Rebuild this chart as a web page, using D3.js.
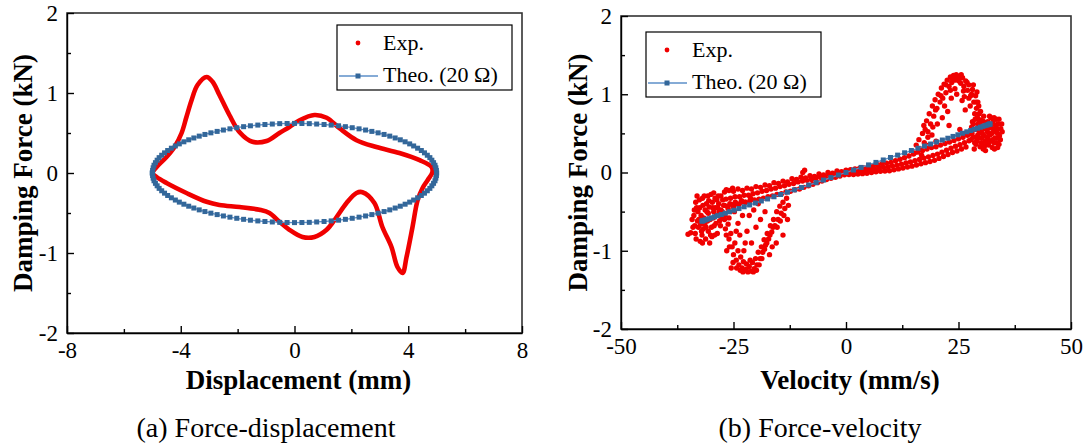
<!DOCTYPE html>
<html>
<head>
<meta charset="utf-8">
<script src="https://cdn.jsdelivr.net/npm/d3@7"></script>
<style>
  body { margin: 0; background: #fff; }
  svg { font-family: "Liberation Serif", "Times New Roman", serif; }
</style>
</head>
<body>
<svg id="chart" width="1091" height="444"></svg>
<script>
// tick values
const dispTicks = [-8, -4, 0, 4, 8];
const dispMinor = [-6, -2, 2, 6];
const velTicks = [-50, -25, 0, 25, 50];
const velMinor = [-37.5, -12.5, 12.5, 37.5];
const forceTicks = [-2, -1, 0, 1, 2];
const forceMinor = [-1.5, -0.5, 0.5, 1.5];

const expDisp = [
  [-4.99, 0], [-4.85, 0.075], [-4.50, 0.2], [-4.22, 0.325], [-3.97, 0.5], [-3.80, 0.7], [-3.62, 0.91],
  [-3.41, 1.1], [-3.09, 1.2], [-2.88, 1.14], [-2.64, 0.975], [-2.29, 0.725], [-1.93, 0.51], [-1.48, 0.39],
  [-0.98, 0.40], [-0.53, 0.50], [-0.18, 0.575], [0.18, 0.66], [0.70, 0.725], [1.13, 0.69], [1.58, 0.56],
  [2.18, 0.41], [2.88, 0.325], [3.69, 0.25], [4.40, 0.16], [4.82, 0.075], [4.85, 0.01], [4.68, -0.09],
  [4.50, -0.19], [4.33, -0.34], [4.15, -0.675], [3.94, -1.05], [3.80, -1.25], [3.62, -1.175], [3.41, -0.925],
  [3.09, -0.675], [2.81, -0.375], [2.39, -0.24], [2.18, -0.25], [1.83, -0.375], [1.48, -0.55], [1.13, -0.71],
  [0.70, -0.80], [0.28, -0.80], [-0.18, -0.71], [-0.53, -0.61], [-0.88, -0.50], [-1.23, -0.46], [-1.93, -0.425],
  [-2.64, -0.40], [-3.09, -0.36], [-3.80, -0.25], [-4.50, -0.125], [-4.85, -0.05]
];

// (a) theoretical loop, 20 ohm
const theoDisp = [
  -5.00, -4.99, -4.97, -4.94, -4.89, -4.83, -4.76, -4.67, -4.57, -4.46, -4.33, -4.19, -4.05, -3.89, -3.72, -3.54,
  -3.35, -3.15, -2.94, -2.72, -2.50, -2.27, -2.03, -1.79, -1.55, -1.29, -1.04, -0.78, -0.52, -0.26, 0.00, 0.26,
  0.52, 0.78, 1.04, 1.29, 1.55, 1.79, 2.03, 2.27, 2.50, 2.72, 2.94, 3.15, 3.35, 3.54, 3.72, 3.89, 4.05, 4.19,
  4.33, 4.46, 4.57, 4.67, 4.76, 4.83, 4.89, 4.94, 4.97, 4.99, 5.00,
  4.99, 4.97, 4.94, 4.89, 4.83, 4.76, 4.67, 4.57, 4.46, 4.33, 4.19, 4.05, 3.89, 3.72, 3.54, 3.35, 3.15, 2.94,
  2.72, 2.50, 2.27, 2.03, 1.79, 1.55, 1.29, 1.04, 0.78, 0.52, 0.26, 0.00, -0.26, -0.52, -0.78, -1.04, -1.29,
  -1.55, -1.79, -2.03, -2.27, -2.50, -2.72, -2.94, -3.15, -3.35, -3.54, -3.72, -3.89, -4.05, -4.19, -4.33,
  -4.46, -4.57, -4.67, -4.76, -4.83, -4.89, -4.94, -4.97, -4.99, -5.00
];
const theoForce = [
  0, 0.032, 0.065, 0.097, 0.129, 0.160, 0.192, 0.222, 0.252, 0.281, 0.310, 0.338, 0.364, 0.390, 0.415, 0.438,
  0.461, 0.482, 0.502, 0.520, 0.537, 0.552, 0.566, 0.579, 0.590, 0.599, 0.606, 0.612, 0.617, 0.619, 0.620, 0.619,
  0.617, 0.612, 0.606, 0.599, 0.590, 0.579, 0.566, 0.552, 0.537, 0.520, 0.502, 0.482, 0.461, 0.438, 0.415, 0.390,
  0.364, 0.338, 0.310, 0.281, 0.252, 0.222, 0.192, 0.160, 0.129, 0.097, 0.065, 0.032, 0,
  -0.032, -0.065, -0.097, -0.129, -0.160, -0.192, -0.222, -0.252, -0.281, -0.310, -0.338, -0.364, -0.390, -0.415,
  -0.438, -0.461, -0.482, -0.502, -0.520, -0.537, -0.552, -0.566, -0.579, -0.590, -0.599, -0.606, -0.612, -0.617,
  -0.619, -0.620, -0.619, -0.617, -0.612, -0.606, -0.599, -0.590, -0.579, -0.566, -0.552, -0.537, -0.520, -0.502,
  -0.482, -0.461, -0.438, -0.415, -0.390, -0.364, -0.338, -0.310, -0.281, -0.252, -0.222, -0.192, -0.160, -0.129,
  -0.097, -0.065, -0.032, 0
];

// (b) theoretical line
const theoVel = [
  -32.00, -31.96, -31.82, -31.61, -31.30, -30.91, -30.43, -29.87, -29.23, -28.51, -27.71, -26.84, -25.89, -24.87,
  -23.78, -22.63, -21.41, -20.14, -18.81, -17.43, -16.00, -14.53, -13.02, -11.47, -9.89, -8.28, -6.65, -5.01,
  -3.35, -1.67, 0, 1.67, 3.35, 5.01, 6.65, 8.28, 9.89, 11.47, 13.02, 14.53, 16.00, 17.43, 18.81, 20.14, 21.41,
  22.63, 23.78, 24.87, 25.89, 26.84, 27.71, 28.51, 29.23, 29.87, 30.43, 30.91, 31.30, 31.61, 31.82, 31.96, 32.00
];
const theoVelForce = [
  -0.620, -0.619, -0.617, -0.612, -0.606, -0.599, -0.590, -0.579, -0.566, -0.552, -0.537, -0.520, -0.502, -0.482,
  -0.461, -0.438, -0.415, -0.390, -0.364, -0.338, -0.310, -0.281, -0.252, -0.222, -0.192, -0.160, -0.129, -0.097,
  -0.065, -0.032, 0, 0.032, 0.065, 0.097, 0.129, 0.160, 0.192, 0.222, 0.252, 0.281, 0.310, 0.338, 0.364, 0.390,
  0.415, 0.438, 0.461, 0.482, 0.502, 0.520, 0.537, 0.552, 0.566, 0.579, 0.590, 0.599, 0.606, 0.612, 0.617, 0.619, 0.620
];

// (b) experimental scatter, [velocity mm/s, force kN]
const expVel = [
  // lower-left cluster
  [-33.5, -0.78], [-33, -0.62], [-33.2, -0.45], [-32.6, -0.35], [-32.8, -0.7], [-32.2, -0.55], [-32, -0.8],
  [-31.8, -0.42], [-31.5, -0.3], [-31.4, -0.66], [-31.2, -0.85], [-30.9, -0.5], [-30.6, -0.75], [-30.5, -0.36],
  [-30.2, -0.6], [-30, -0.28], [-29.8, -0.82], [-29.6, -0.45], [-29.3, -0.68], [-29.1, -0.33], [-28.8, -0.55],
  [-28.6, -0.78], [-28.3, -0.4], [-28.1, -0.62], [-27.8, -0.3], [-27.6, -0.5], [-34.5, -0.77], [-33.8, -0.55],
  [-33.4, -0.38], [-32.4, -0.88], [-31, -0.4], [-30.3, -0.9], [-29.4, -0.26], [-32.9, -0.5], [-31.7, -0.72],
  [-30.8, -0.62], [-29.9, -0.7], [-29, -0.45], [-28.4, -0.3], [-27.2, -0.42], [-26.9, -0.55], [-35.1, -0.79],
  [-34, -0.7], [-33.7, -0.48], [-33.3, -0.85], [-33.1, -0.3], [-32.7, -0.6], [-32.5, -0.45], [-32.1, -0.75],
  [-31.9, -0.33], [-31.6, -0.58], [-31.3, -0.48], [-31.1, -0.7], [-30.7, -0.3], [-30.4, -0.44], [-30.1, -0.8],
  [-29.7, -0.38], [-29.5, -0.58], [-29.2, -0.8], [-28.9, -0.65], [-28.7, -0.35], [-28.2, -0.5], [-27.9, -0.68],
  [-27.4, -0.35], [-33.6, -0.68], [-32.3, -0.66], [-31.9, -0.9], [-30.6, -0.52], [-29.4, -0.5], [-28.5, -0.45],
  [-27.7, -0.58], [-34.2, -0.6],
  // band from lower-left to origin: upper, middle and lower rows
  [-27, -0.25], [-26, -0.23], [-25, -0.24], [-24, -0.21], [-23, -0.23], [-22, -0.2], [-21, -0.21], [-20, -0.18],
  [-19, -0.19], [-18, -0.16], [-17, -0.17], [-16, -0.13], [-15, -0.14], [-14, -0.11], [-13, -0.12], [-12, -0.08],
  [-11, -0.09], [-10, -0.06], [-9, -0.07], [-8, -0.04], [-7, -0.05], [-6, -0.02], [-5, -0.03], [-4, 0.0],
  [-3, -0.01], [-2, 0.02], [-1, 0.01], [0, 0.03],
  [-26.67, -0.34], [-25.67, -0.33], [-24.67, -0.31], [-23.67, -0.31], [-22.67, -0.29], [-21.67, -0.29],
  [-20.67, -0.27], [-19.67, -0.26], [-18.67, -0.24], [-17.67, -0.23], [-16.67, -0.21], [-15.67, -0.2],
  [-14.67, -0.18], [-13.67, -0.17], [-12.67, -0.15], [-11.67, -0.14], [-10.67, -0.12], [-9.67, -0.11],
  [-8.67, -0.1], [-7.67, -0.09], [-6.67, -0.07], [-5.67, -0.06], [-4.67, -0.05], [-3.67, -0.03], [-2.67, -0.02],
  [-1.67, -0.01], [-0.67, 0.0],
  [-26.34, -0.43], [-25.34, -0.41], [-24.34, -0.4], [-23.34, -0.38], [-22.34, -0.38], [-21.34, -0.36],
  [-20.34, -0.35], [-19.34, -0.34], [-18.34, -0.33], [-17.34, -0.31], [-16.34, -0.3], [-15.34, -0.28],
  [-14.34, -0.27], [-13.34, -0.25], [-12.34, -0.24], [-11.34, -0.22], [-10.34, -0.21], [-9.34, -0.19],
  [-8.34, -0.17], [-7.34, -0.15], [-6.34, -0.13], [-5.34, -0.11], [-4.34, -0.09], [-3.34, -0.075],
  [-2.34, -0.06], [-1.34, -0.045], [-0.34, -0.03], [-9.6, 0.0], [-9.2, 0.03],
  [-27, -0.42], [-25.8, -0.4], [-24.6, -0.38], [-23.2, -0.36], [-26.2, -0.46], [-25, -0.44], [-23.8, -0.41],
  [-22.4, -0.38], [-21.2, -0.33], [-27.8, -0.48], [-26.6, -0.22], [-25.2, -0.2],
  // band from origin to upper-right: upper, middle and lower rows
  [1, 0.037], [2, 0.045], [3, 0.052], [4, 0.059], [5, 0.072], [6, 0.086], [7, 0.1], [8, 0.111], [9, 0.12],
  [10, 0.128], [11, 0.15], [12, 0.17], [13, 0.19], [14, 0.21], [15, 0.235], [16, 0.26], [17, 0.28], [18, 0.3],
  [19, 0.32], [20, 0.33], [21, 0.35], [22, 0.37], [23, 0.39], [24, 0.41], [25, 0.43], [26, 0.45], [27, 0.475],
  [1.33, 0.008], [2.33, 0.012], [3.33, 0.017], [4.33, 0.025], [5.33, 0.035], [6.33, 0.047], [7.33, 0.057],
  [8.33, 0.066], [9.33, 0.072], [10.33, 0.082], [11.33, 0.093], [12.33, 0.107], [13.33, 0.121], [14.33, 0.135],
  [15.33, 0.15], [16.33, 0.167], [17.33, 0.184], [18.33, 0.2], [19.33, 0.218], [20.33, 0.235], [21.33, 0.26],
  [22.33, 0.285], [23.33, 0.31], [24.33, 0.335], [25.33, 0.355], [26.33, 0.38], [27.33, 0.405],
  [0.66, -0.027], [1.66, -0.025], [2.66, -0.02], [3.66, -0.015], [4.66, -0.01], [5.66, 0.0], [6.66, 0.008],
  [7.66, 0.015], [8.66, 0.019], [9.66, 0.023], [10.66, 0.034], [11.66, 0.046], [12.66, 0.058], [13.66, 0.07],
  [14.66, 0.081], [15.66, 0.096], [16.66, 0.111], [17.66, 0.126], [18.66, 0.14], [19.66, 0.155], [20.66, 0.18],
  [21.66, 0.205], [22.66, 0.23], [23.66, 0.255], [24.66, 0.275], [25.66, 0.3], [26.66, 0.325],
  // upper-right cluster
  [28, 0.5], [28.3, 0.62], [28.6, 0.38], [29, 0.55], [29.2, 0.7], [29.5, 0.44], [29.8, 0.33], [30, 0.6],
  [30.3, 0.5], [30.6, 0.72], [30.9, 0.4], [31.2, 0.56], [31.5, 0.65], [31.7, 0.35], [32, 0.48], [32.3, 0.6],
  [32.6, 0.42], [32.9, 0.7], [33.2, 0.52], [33.5, 0.38], [33.8, 0.62], [34.1, 0.47], [34.4, 0.56], [33, 0.3],
  [31, 0.28], [29.4, 0.62], [28.8, 0.45], [30.1, 0.38], [31.9, 0.72], [33.4, 0.68], [34.6, 0.62], [34, 0.36],
  [32.5, 0.32], [30.7, 0.47], [29.7, 0.52], [27.8, 0.42], [28.5, 0.3], [31.4, 0.45], [32.8, 0.55],
  [27.9, 0.58], [28.2, 0.45], [28.7, 0.68], [29.1, 0.4], [29.5, 0.58], [29.9, 0.67], [30.2, 0.44], [30.5, 0.56],
  [30.8, 0.34], [31.1, 0.64], [31.4, 0.52], [31.8, 0.6], [32.1, 0.4], [32.4, 0.5], [32.7, 0.65], [33.1, 0.44],
  [33.3, 0.6], [33.7, 0.5], [34, 0.68], [34.3, 0.42], [34.7, 0.52], [28.4, 0.55], [29.3, 0.48], [30.4, 0.66],
  [31.6, 0.42], [32.2, 0.7], [33.6, 0.56], [30, 0.52], [31.3, 0.36], [32.9, 0.38], [28.9, 0.36], [29.6, 0.65],
  [30.9, 0.58], [32, 0.57], [33.9, 0.44], [31.8, 0.5], [30.5, 0.3], [33.7, 0.32], [27.5, 0.5], [28.1, 0.65],
  // upper arch
  [15.6, 0.35], [16.2, 0.42], [16.5, 0.3], [17, 0.5], [17.4, 0.38], [17.3, 0.6], [17.9, 0.66], [18.2, 0.52],
  [18.5, 0.75], [18.8, 0.62], [19.2, 0.85], [19.5, 0.72], [19.8, 0.93], [20.2, 0.82], [20.5, 1.0], [20.9, 0.9],
  [21.2, 1.08], [21.5, 0.95], [21.8, 1.13], [22.2, 1.02], [22.5, 1.18], [22.9, 1.1], [23.2, 1.22], [23.5, 1.15],
  [23.9, 1.24], [24.2, 1.18], [24.5, 1.25], [24.9, 1.2], [25.2, 1.23], [25.5, 1.14], [25.9, 1.21], [26.2, 1.1],
  [26.6, 1.17], [27, 1.05], [27.3, 1.12], [27.7, 0.98], [28.1, 1.06], [28.4, 0.9], [28.8, 0.98], [29, 0.82],
  [29.3, 0.9], [29.6, 0.75], [21.9, 0.85], [22.6, 0.78], [23.4, 0.95], [24.6, 1.0], [25.8, 0.92], [26.5, 0.8],
  [27.6, 0.85], [19.1, 0.48], [20.3, 0.62], [21.4, 0.7], [22.9, 0.6], [18.4, 0.35], [20, 0.4], [24.2, 1.07],
  [26.3, 0.97], [28.6, 0.75], [16.8, 0.22], [15.2, 0.25], [25.3, 0.55],
  [23.6, 1.2], [24.4, 1.22], [25.1, 1.17], [25.6, 1.25], [26.9, 1.15], [27.9, 1.0], [28.3, 1.12], [28.9, 0.9],
  [29.5, 0.85], [29.9, 0.78], [29.1, 1.03], [27.3, 0.95], [26.1, 1.04], [23.2, 1.05], [22.2, 1.12], [21.1, 0.98],
  [19.9, 0.8], [19.3, 0.58], [18.2, 0.45], [17.6, 0.55],
  // lower arch
  [-27.5, -0.5], [-27, -0.6], [-26.8, -0.72], [-26.2, -0.66], [-26, -0.85], [-25.6, -0.78], [-25.3, -0.95],
  [-25, -1.05], [-24.7, -0.9], [-24.4, -1.12], [-24, -1.0], [-23.8, -1.18], [-23.4, -1.08], [-23.1, -1.22],
  [-22.8, -1.14], [-22.5, -1.25], [-22.1, -1.17], [-21.8, -1.27], [-21.5, -1.2], [-21.1, -1.26], [-20.8, -1.15],
  [-20.4, -1.23], [-20.1, -1.1], [-19.8, -1.18], [-19.5, -1.02], [-19.1, -1.1], [-18.8, -0.95], [-18.5, -1.02],
  [-18.2, -0.86], [-17.9, -0.93], [-17.5, -0.78], [-17.2, -0.85], [-16.8, -0.68], [-16.5, -0.76], [-16.1, -0.6],
  [-15.8, -0.68], [-15.4, -0.5], [-15.1, -0.6], [-14.7, -0.43], [-14.4, -0.52], [-14, -0.38], [-13.6, -0.46],
  [-13.2, -0.33], [-13, -0.6], [-14, -0.8], [-15.5, -0.9], [-16.4, -0.95], [-24, -0.65], [-23, -0.55],
  [-22, -0.75], [-21, -0.9], [-20, -0.7], [-19, -0.6], [-18, -0.5], [-22.7, -1.0], [-26.5, -1.0], [-25.5, -1.22],
  [-23.6, -0.8], [-17, -1.05], [-20.5, -0.48], [-24.8, -0.5], [-21.5, -0.55], [-19.5, -0.4],
  [-26.6, -0.8], [-25.9, -0.95], [-25.1, -1.15], [-24.3, -1.22], [-23.5, -1.25], [-22.9, -1.27], [-22.2, -1.24],
  [-21.3, -1.12], [-20.6, -1.27], [-19.9, -1.25], [-19.3, -1.18], [-18.7, -1.1], [-18.1, -0.98], [-17.6, -0.9],
  [-16.9, -0.8], [-16.2, -0.7], [-15.3, -0.7], [-14.6, -0.62], [-13.8, -0.55], [-12.8, -0.42], [-26, -0.58],
  [-24.4, -0.75], [-22.4, -0.9]
];

const svg = d3.select('#chart');
const red = '#f00000';
const blue = '#33679a';
const lineBlue = '#5d8fc8';
const fmt = d => String(d);

function styleAxis(sel) {
  sel.attr('font-family', null).attr('font-size', 23);
  sel.selectAll('path, line').attr('stroke', '#000').attr('stroke-width', 1.4);
  sel.selectAll('text').attr('fill', '#000');
}

function panel(o) {
  const x = d3.scaleLinear().domain(o.xDomain).range(o.xRange);
  const y = d3.scaleLinear().domain([-2, 2]).range(o.yRange);
  const g = svg.append('g');

  g.append('rect')
    .attr('x', o.xRange[0]).attr('y', o.yRange[1])
    .attr('width', o.xRange[1] - o.xRange[0]).attr('height', o.yRange[0] - o.yRange[1])
    .attr('fill', 'none').attr('stroke', '#333').attr('stroke-width', 1.6);

  const marks = g.append('g');

  g.append('g').attr('transform', `translate(0,${o.yRange[0]})`)
    .call(d3.axisBottom(x).tickValues(o.xTicks).tickSize(-7).tickSizeOuter(0).tickPadding(9).tickFormat(fmt))
    .call(styleAxis);
  g.append('g').attr('transform', `translate(0,${o.yRange[0]})`)
    .call(d3.axisBottom(x).tickValues(o.xMinor).tickSize(-4).tickFormat(''))
    .call(styleAxis).call(s => s.select('.domain').remove());
  g.append('g').attr('transform', `translate(${o.xRange[0]},0)`)
    .call(d3.axisLeft(y).tickValues(forceTicks).tickSize(-7).tickSizeOuter(0).tickPadding(9).tickFormat(fmt))
    .call(styleAxis);
  g.append('g').attr('transform', `translate(${o.xRange[0]},0)`)
    .call(d3.axisLeft(y).tickValues(forceMinor).tickSize(-4).tickFormat(''))
    .call(styleAxis).call(s => s.select('.domain').remove());

  g.append('text')
    .attr('x', (o.xRange[0] + o.xRange[1]) / 2 + 4).attr('y', 389)
    .attr('text-anchor', 'middle').attr('font-size', 27).attr('font-weight', 'bold')
    .text(o.xTitle);
  g.append('text')
    .attr('transform', `translate(${o.yTitleX},${(o.yRange[0] + o.yRange[1]) / 2}) rotate(-90)`)
    .attr('text-anchor', 'middle').attr('font-size', 27).attr('font-weight', 'bold')
    .text('Damping Force (kN)');
  g.append('text')
    .attr('x', o.captionX).attr('y', 437)
    .attr('text-anchor', 'middle').attr('font-size', 28)
    .text(o.caption);

  // legend
  const L = o.legend;
  const lg = g.append('g').attr('transform', `translate(${L.x},${L.y})`);
  lg.append('rect').attr('width', 175).attr('height', 65)
    .attr('fill', '#fff').attr('stroke', '#000').attr('stroke-width', 1.2);
  lg.append('circle').attr('cx', 21).attr('cy', 18).attr('r', 2.4).attr('fill', red);
  lg.append('text').attr('x', 46).attr('y', 25).attr('font-size', 22).text('Exp.');
  lg.append('line').attr('x1', 2).attr('x2', 41).attr('y1', 51).attr('y2', 51)
    .attr('stroke', lineBlue).attr('stroke-width', 1.3);
  lg.append('rect').attr('x', 18.5).attr('y', 48.5).attr('width', 5).attr('height', 5).attr('fill', blue);
  lg.append('text').attr('x', 46).attr('y', 57).attr('font-size', 22).text('Theo. (20 Ω)');

  return { marks, x, y };
}

// (a) force-displacement
const a = panel({
  xDomain: [-8, 8], xRange: [67, 522], yRange: [333, 13],
  xTicks: dispTicks, xMinor: dispMinor,
  xTitle: 'Displacement (mm)', yTitleX: 32,
  caption: '(a) Force-displacement', captionX: 266,
  legend: { x: 337, y: 25 }
});

a.marks.append('path')
  .datum(expDisp)
  .attr('d', d3.line().x(d => a.x(d[0])).y(d => a.y(d[1])).curve(d3.curveCatmullRomClosed))
  .attr('fill', 'none').attr('stroke', red).attr('stroke-width', 4.6).attr('stroke-linejoin', 'round');

const theoA = theoDisp.map((d, i) => [d, theoForce[i]]);
a.marks.append('path')
  .datum(theoA)
  .attr('d', d3.line().x(d => a.x(d[0])).y(d => a.y(d[1])))
  .attr('fill', 'none').attr('stroke', lineBlue).attr('stroke-width', 1.3);
a.marks.selectAll('rect.theo').data(theoA).join('rect')
  .attr('class', 'theo')
  .attr('x', d => a.x(d[0]) - 2.5).attr('y', d => a.y(d[1]) - 2.5)
  .attr('width', 5).attr('height', 5).attr('fill', blue);

// (b) force-velocity
const b = panel({
  xDomain: [-50, 50], xRange: [621, 1071], yRange: [329, 16],
  xTicks: velTicks, xMinor: velMinor,
  xTitle: 'Velocity (mm/s)', yTitleX: 587,
  caption: '(b) Force-velocity', captionX: 820,
  legend: { x: 646, y: 32 }
});

b.marks.selectAll('circle.exp').data(expVel).join('circle')
  .attr('class', 'exp')
  .attr('cx', d => b.x(d[0])).attr('cy', d => b.y(d[1]))
  .attr('r', 2.7).attr('fill', red);

const theoB = theoVel.map((d, i) => [d, theoVelForce[i]]);
b.marks.append('path')
  .datum(theoB)
  .attr('d', d3.line().x(d => b.x(d[0])).y(d => b.y(d[1])))
  .attr('fill', 'none').attr('stroke', lineBlue).attr('stroke-width', 1.3);
b.marks.selectAll('rect.theo').data(theoB).join('rect')
  .attr('class', 'theo')
  .attr('x', d => b.x(d[0]) - 2.5).attr('y', d => b.y(d[1]) - 2.5)
  .attr('width', 5).attr('height', 5).attr('fill', blue);
</script>
</body>
</html>
